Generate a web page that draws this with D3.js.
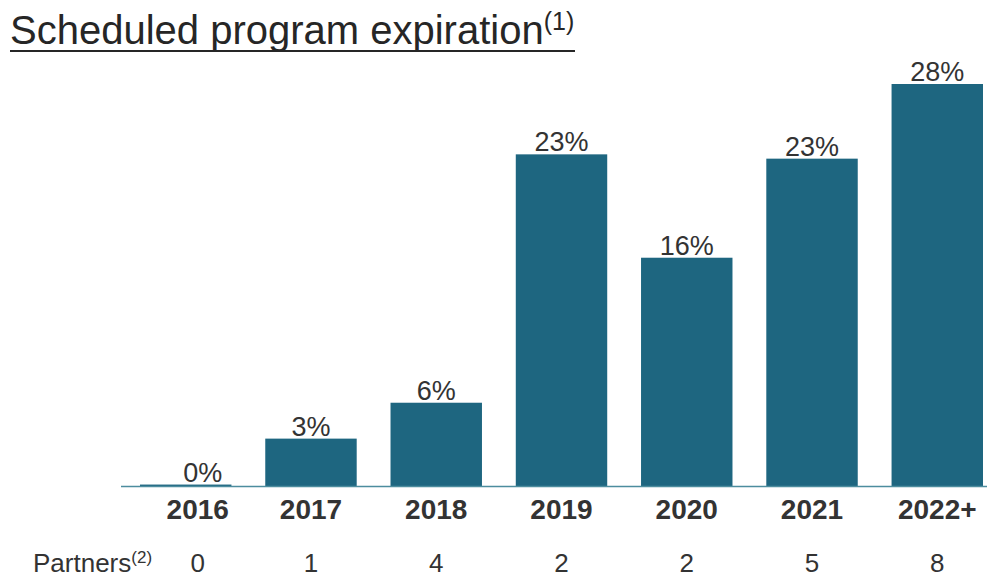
<!DOCTYPE html>
<html>
<head>
<meta charset="utf-8">
<script src="https://cdn.jsdelivr.net/npm/d3@7"></script>
<style>
  body { margin: 0; background: #fff; }
  text { font-family: "Liberation Sans", Arial, sans-serif; }
</style>
</head>
<body>
<svg></svg>
<script>
/* Scheduled program expiration - bar chart */
var w = 987, h = 578;

var years = ["2016", "2017", "2018", "2019", "2020", "2021", "2022+"];
var shares = [0.1, 3.3, 5.8, 23.1, 15.9, 22.8, 28.0];
var partners = [0, 1, 4, 2, 2, 5, 8];

var svg = d3.select("svg")
            .attr("width", w)
            .attr("height", h);

var x = d3.scaleBand()
          .domain(years)
          .range([140, 983])
          .paddingInner(0.27)
          .paddingOuter(0);

var y = d3.scaleLinear()
          .domain([0, 28])
          .range([486, 84]);

var fmt = function(v) { return d3.format(".0f")(v) + "%"; };

// first column labels sit a bit right of the (empty) 2016 bar
function mid(i) { return x(years[i]) + x.bandwidth() / 2 + (i === 0 ? 12 : 0); }

// title
var title = svg.append("text")
               .attr("x", 10)
               .attr("y", 44)
               .attr("font-size", 40)
               .attr("fill", "#262626");
title.append("tspan").text("Scheduled program expiration");
title.append("tspan")
     .attr("font-size", 25)
     .attr("dy", -14)
     .text("(1)");

svg.append("line")
   .attr("x1", 10).attr("x2", 575)
   .attr("y1", 51).attr("y2", 51)
   .attr("stroke", "#262626")
   .attr("stroke-width", 2.2);

// bars
svg.append("g")
   .selectAll("rect")
   .data(shares)
   .enter()
   .append("rect")
   .attr("x", function(d, i) { return x(years[i]); })
   .attr("y", function(d) { return y(d); })
   .attr("width", x.bandwidth())
   .attr("height", function(d) { return y(0) - y(d); })
   .attr("fill", "#1e6680");

// baseline
svg.append("line")
   .attr("x1", 121).attr("x2", 987)
   .attr("y1", y(0) + 0.5).attr("y2", y(0) + 0.5)
   .attr("stroke", "#4d8d9e")
   .attr("stroke-width", 1.5);

// value labels
svg.append("g")
   .selectAll("text")
   .data(shares)
   .enter()
   .append("text")
   .attr("x", function(d, i) { return x(years[i]) + x.bandwidth() / 2 + (i === 0 ? 17 : 0); })
   .attr("y", function(d) { return y(d) - 3; })
   .attr("text-anchor", "middle")
   .attr("font-size", 27)
   .attr("fill", "#333")
   .text(fmt);

// year labels
svg.append("g")
   .selectAll("text")
   .data(years)
   .enter()
   .append("text")
   .attr("x", function(d, i) { return mid(i); })
   .attr("y", 519)
   .attr("text-anchor", "middle")
   .attr("font-size", 28)
   .attr("font-weight", "bold")
   .attr("fill", "#333")
   .text(function(d) { return d; });

// partners row
var plabel = svg.append("text")
                .attr("x", 33)
                .attr("y", 572)
                .attr("font-size", 26)
                .attr("fill", "#333");
plabel.append("tspan").text("Partners");
plabel.append("tspan")
      .attr("font-size", 17)
      .attr("dy", -9)
      .text("(2)");

svg.append("g")
   .selectAll("text")
   .data(partners)
   .enter()
   .append("text")
   .attr("x", function(d, i) { return mid(i); })
   .attr("y", 572)
   .attr("text-anchor", "middle")
   .attr("font-size", 26)
   .attr("fill", "#333")
   .text(function(d) { return d; });
</script>
</body>
</html>
